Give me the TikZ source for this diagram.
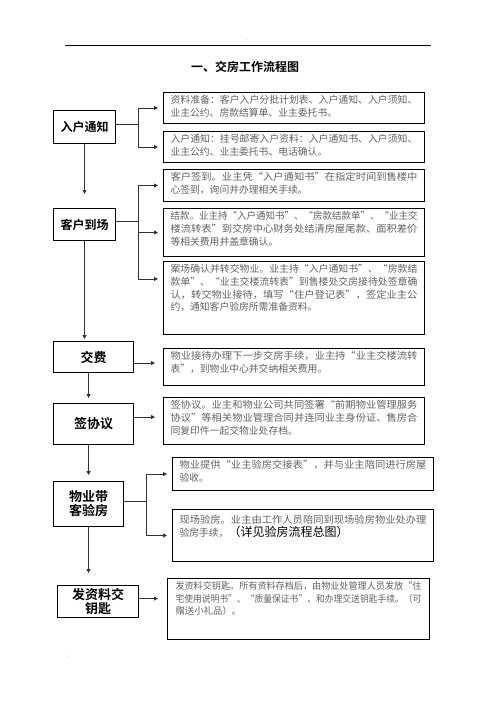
\documentclass[tikz,border=0pt]{standalone}
\usepackage{fontspec}
\usepackage{graphicx}
\setmainfont{Noto Sans CJK SC}[BoldFont={Noto Sans CJK SC Bold}]
\usetikzlibrary{arrows.meta,calc}
\definecolor{txtgray}{gray}{0.38}
\newcommand{\boxtxt}[3]{\parbox[c][#2][t]{#1}{\vspace*{3pt}#3}}
\newcommand{\fitline}[1]{\resizebox{\linewidth}{\height}{#1}\\}
\tikzset{
  stagebox/.style={draw,line width=1.1pt,anchor=north west,inner sep=0pt,align=center,font=\bfseries\fontsize{13}{14}\selectfont},
  infobox/.style={draw,line width=1pt,anchor=north west,inner xsep=7pt,inner ysep=0pt,text=txtgray,font=\fontsize{9.8}{12.6}\selectfont},
  link/.style={line width=0.9pt,draw=black!80},
  arrow/.style={link,-{Triangle[length=4pt,width=4pt]}}
}
\begin{document}
\begin{tikzpicture}[x=1pt,y=-1pt]
		\useasboundingbox (0,0) rectangle (496,702);
		\draw[line width=0.8pt] (65,45) -- (431,45);
		\node[text=black!30,font=\tiny] (dash) at (247,41) {-};
		\node[font=\bfseries\fontsize{12}{14}\selectfont] (title) at (245,67) {一、交房工作流程图};
		% left column
		\node[stagebox,minimum width=62,minimum height=33,font=\bfseries\fontsize{12}{14}\selectfont] (s1) at (53,110) {入户通知};
		\node[stagebox,minimum width=62,minimum height=32,font=\bfseries\fontsize{12}{14}\selectfont] (s2) at (53,208) {客户到场};
		\node[stagebox,minimum width=80,minimum height=31] (s3) at (53,341) {交费};
		\node[stagebox,minimum width=80,minimum height=41] (s4) at (53,403) {签协议};
		\node[stagebox,minimum width=70,minimum height=45] (s5) at (53,481) {物业带\\客验房};
		\node[stagebox,minimum width=81,minimum height=32] (s6) at (57,585) {发资料交\\钥匙};
		% right column
		\node[infobox] (r1a) at (163,92) {\boxtxt{247pt}{31pt}{\fitline{资料准备：客户入户分批计划表、入户通知、入户须知、}业主公约、房款结算单、业主委托书。}};
		\node[infobox] (r1b) at (163,131) {\boxtxt{247pt}{31pt}{\fitline{入户通知：挂号邮寄入户资料：入户通知书、入户须知、}业主公约、业主委托书、电话确认。}};
		\node[infobox] (r2a) at (163,169) {\boxtxt{247pt}{32pt}{\fitline{客户签到。业主凭“入户通知书”在指定时间到售楼中}心签到，询问并办理相关手续。}};
		\node[infobox] (r2b) at (163,208) {\boxtxt{247pt}{48pt}{\fitline{结款。业主持“入户通知书”、“房款结款单”、“业主交}\fitline{楼流转表”到交房中心财务处结清房屋尾款、面积差价}等相关费用并盖章确认。}};
		\node[infobox] (r2c) at (163,261) {\boxtxt{247pt}{73pt}{\fitline{案场确认并转交物业。业主持“入户通知书”、“房款结}\fitline{款单”、“业主交楼流转表”到售楼处交房接待处签章确}\fitline{认，转交物业接待，填写“住户登记表”，签定业主公}约，通知客户验房所需准备资料。}};
		\node[infobox] (r3a) at (163,348) {\boxtxt{247pt}{37pt}{\fitline{物业接待办理下一步交房手续，业主持“业主交楼流转}表”，到物业中心并交纳相关费用。}};
		\node[infobox] (r4a) at (163,397) {\boxtxt{247pt}{47pt}{\fitline{签协议。业主和物业公司共同签署“前期物业管理服务}\fitline{协议”等相关物业管理合同并连同业主身份证、售房合}同复印件一起交物业处存档。}};
		\node[infobox] (r5a) at (172,457) {\boxtxt{247pt}{33pt}{\fitline{物业提供“业主验房交接表”，并与业主陪同进行房屋}验收。}};
		\node[infobox] (r5b) at (172,509) {\boxtxt{247pt}{52pt}{\vspace*{3pt}\fitline{现场验房。业主由工作人员陪同到现场验房物业处办理}验房手续，{\color{black}\fontsize{12}{12.6}\selectfont（详见验房流程总图）}}};
		\node[infobox,inner xsep=8pt,font=\fontsize{9.4}{12.6}\selectfont] (r6a) at (167,578) {\boxtxt{246pt}{61pt}{\fitline{发资料交钥匙。所有资料存档后，由物业处管理人员发放“住}\fitline{宅使用说明书”、“质量保证书”、和办理交送钥匙手续。（可}赠送小礼品）。}};
		\node[text=black!40,font=\tiny] (mark) at (68,657) {:.};
		% connectors
		\draw[link] ([yshift=3pt]s1.east) -- ++(22,0) coordinate (b1);
		\draw[link] (b1 |- r1a.west) -- (b1 |- r1b.west);
		\draw[arrow] (b1 |- r1a.west) -- ([xshift=-5pt]r1a.west);
		\draw[arrow] (b1 |- r1b.west) -- ([xshift=-5pt]r1b.west);
		\draw[arrow,shorten >=14pt] (s1.south) -- (s2.north);
		\draw[link] ([yshift=3pt]s2.east) -- ++(22,0) coordinate (b2);
		\coordinate (c2) at ([xshift=-5pt,yshift=-18pt]r2c.north west);
		\draw[link] (b2 |- r2a.west) -- (b2 |- c2);
		\draw[arrow] (b2 |- r2a.west) -- ([xshift=-5pt]r2a.west);
		\draw[arrow] (b2 |- r2b.west) -- ([xshift=-5pt]r2b.west);
		\draw[arrow] (b2 |- c2) -- (c2);
		\draw[arrow,shorten >=2pt] (s2.south) -- (s2.south |- s3.north);
		\draw[arrow,shorten >=8pt] ([yshift=-6pt]s3.east) -- ([yshift=-6pt]s3.east -| r3a.west);
		\draw[arrow,shorten >=5pt] ([xshift=-5pt]s3.south) -- ([xshift=-5pt]s4.north);
		\draw[arrow,shorten >=8pt] ([yshift=7pt]s4.east) -- ([yshift=7pt]s4.east -| r4a.west);
		\draw[arrow,shorten >=6pt] (s5.north |- s4.south) -- (s5.north);
		\draw[link] ([yshift=3pt]s5.east) -- ++(22,0) coordinate (b5);
		\draw[link] (b5 |- r5a.west) -- (b5 |- r5b.west);
		\draw[arrow] (b5 |- r5a.west) -- ([xshift=-5pt]r5a.west);
		\draw[arrow] (b5 |- r5b.west) -- ([xshift=-5pt]r5b.west);
		\draw[arrow,shorten >=12pt] (s5.south) -- (s5.south |- s6.north);
		\draw[arrow,shorten >=9pt] ([yshift=3pt,xshift=-1pt]s6.east) -- ([yshift=3pt]s6.east -| r6a.west);
\end{tikzpicture}
\end{document}
